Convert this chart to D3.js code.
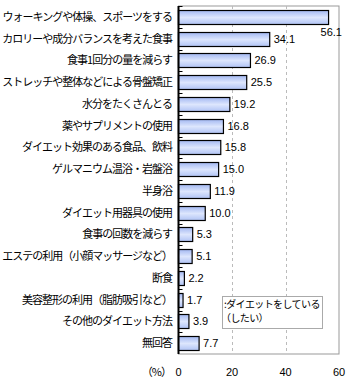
<!DOCTYPE html>
<html><head><meta charset="utf-8">
<script src="https://cdn.jsdelivr.net/npm/d3@7"></script>
<style>body{margin:0;background:#fff}</style>
</head><body>
<script>
const categories = ["ウォーキングや体操、スポーツをする","カロリーや成分バランスを考えた食事","食事1回分の量を減らす","ストレッチや整体などによる骨盤矯正","水分をたくさんとる","薬やサプリメントの使用","ダイエット効果のある食品、飲料","ゲルマニウム温浴・岩盤浴","半身浴","ダイエット用器具の使用","食事の回数を減らす","エステの利用（小顔マッサージなど）","断食","美容整形の利用（脂肪吸引など）","その他のダイエット方法","無回答"];
const values = [56.1,34.1,26.9,25.5,19.2,16.8,15.8,15.0,11.9,10.0,5.3,5.1,2.2,1.7,3.9,7.7];
const xTicks = [0,20,40,60];
const legendLines = [":ダイエットをしている","（したい）"];
const unitLabel = "（%）";

const W=350,H=385;
const L=178.5,R=339,T=6,B=354;
const svg=d3.select("body").append("svg").attr("width",W).attr("height",H);
const defs=svg.append("defs");
const g=defs.append("linearGradient").attr("id","bg").attr("x1",0).attr("y1",0).attr("x2",0).attr("y2",1);
g.append("stop").attr("offset","0%").attr("stop-color","#a3b8f2");
g.append("stop").attr("offset","50%").attr("stop-color","#dde6fd");
g.append("stop").attr("offset","100%").attr("stop-color","#b0c3f5");

const x=d3.scaleLinear().domain([0,60]).range([L,R]);
const y=d3.scaleBand().domain(categories).range([T,B]).paddingInner(0.36).paddingOuter(0.18);
const yb=d3.scaleBand().domain(categories).range([T,B]);

// frame
svg.append("rect").attr("x",L).attr("y",T).attr("width",R-L).attr("height",B-T).attr("fill","none").attr("stroke","#999").attr("stroke-width",1);
// grid
svg.selectAll("line.grid").data([20,40]).join("line").attr("class","grid")
  .attr("x1",d=>Math.round(x(d))+0.5).attr("x2",d=>Math.round(x(d))+0.5).attr("y1",T).attr("y2",B)
  .attr("stroke","#bbb").attr("stroke-dasharray","3,3");

// bars
svg.selectAll("rect.bar").data(values).join("rect").attr("class","bar")
  .attr("x",x(0)).attr("y",(d,i)=>Math.round(y(categories[i]))+0.5)
  .attr("width",d=>x(d)-x(0)).attr("height",Math.round(y.bandwidth()))
  .attr("fill","url(#bg)").attr("stroke","#000").attr("stroke-width",1.2);

// left axis
svg.append("line").attr("x1",L).attr("x2",L).attr("y1",T).attr("y2",B).attr("stroke","#000").attr("stroke-width",2);
svg.selectAll("line.tick").data(categories).join("line").attr("class","tick")
  .attr("x1",L).attr("x2",L+4).attr("y1",d=>Math.round(yb(d))+0.5).attr("y2",d=>Math.round(yb(d))+0.5)
  .attr("stroke","#000").attr("stroke-width",1);

// category labels
svg.selectAll("text.cat").data(categories).join("text").attr("class","cat")
  .attr("x",172).attr("y",d=>yb(d)+yb.bandwidth()/2+1).attr("text-anchor","end").attr("dominant-baseline","middle")
  .attr("font-family","'Noto Sans CJK JP'").attr("font-size",11).attr("letter-spacing","-1px").attr("fill","#000").text(d=>d);

// value labels
const fits=d=>x(d)+28<=R;
svg.selectAll("text.val").data(values).join("text").attr("class","val")
  .attr("x",d=>fits(d)? x(d)+4 : x(d)-8)
  .attr("y",(d,i)=>yb(categories[i])+yb.bandwidth()/2+1+(fits(d)?0:15))
  .attr("dominant-baseline","middle")
  .attr("font-family","'Liberation Sans',Arial").attr("font-size",11).attr("fill","#000").text(d=>d.toFixed(1));

// x tick labels
svg.selectAll("text.xt").data(xTicks).join("text").attr("class","xt")
  .attr("x",d=>x(d)).attr("y",373).attr("text-anchor","middle").attr("dominant-baseline","middle")
  .attr("font-family","'Liberation Sans',Arial").attr("font-size",11).text(d=>d);
svg.append("text").attr("x",171).attr("y",373).attr("text-anchor","end").attr("dominant-baseline","middle")
  .attr("font-family","'Noto Sans CJK JP'").attr("font-size",11).attr("letter-spacing","-1px").text(unitLabel);

// legend
svg.append("rect").attr("x",222.5).attr("y",296.5).attr("width",100).attr("height",32).attr("fill","#fff").attr("stroke","#aaa");
svg.selectAll("text.leg").data(legendLines).join("text").attr("class","leg")
  .attr("x",(d,i)=>i===0?224:221).attr("y",(d,i)=>305+i*14).attr("dominant-baseline","middle")
  .attr("font-family","'Noto Sans CJK JP'").attr("font-size",10).attr("letter-spacing","-0.6px").text(d=>d);
</script>
</body></html>
